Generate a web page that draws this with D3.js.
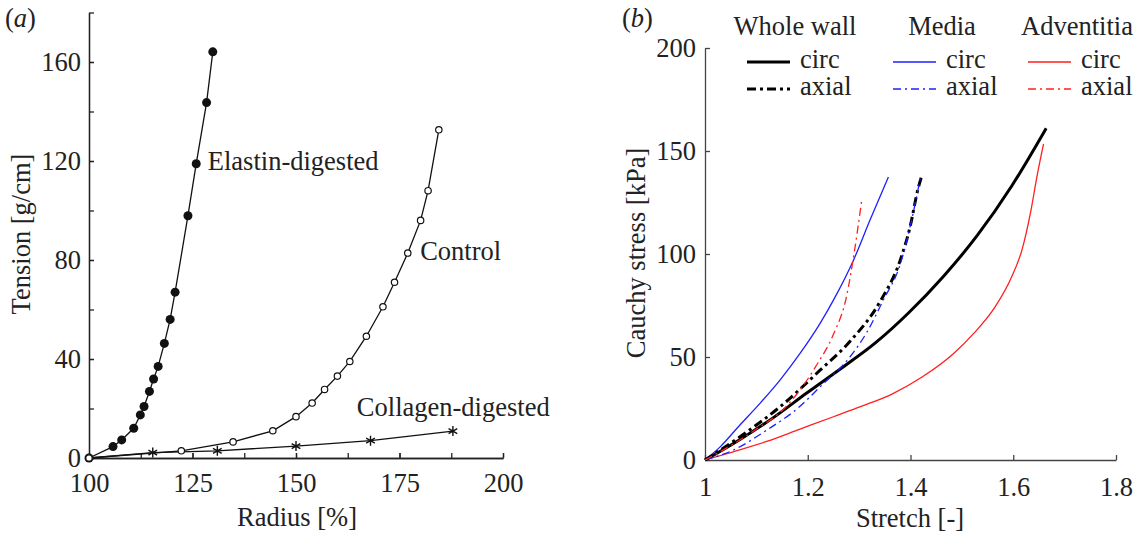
<!DOCTYPE html>
<html>
<head>
<meta charset="utf-8">
<script src="https://cdn.jsdelivr.net/npm/d3@7"></script>
<style>
  body { margin: 0; background: #fff; }
</style>
</head>
<body>
<script>
const W = 1138, H = 535;
const FONT = "'Liberation Serif', 'Times New Roman', Times, serif";
const FS = 26.5;

// ----- PANEL (a) DATA : [radius %, tension g/cm] -----
const elastin = [[100,0],[105.8,4.6],[107.9,7.3],[110.8,12],[112.4,17.4],[113.3,20.8],[114.6,26.9],
  [115.6,31.9],[116.7,37],[118.2,46.3],[119.6,56],[120.8,67],[123.9,97.9],[125.9,118.9],[128.4,143.6],[129.9,164.1]];
const control = [[100,0],[122.3,2.9],[134.8,6.5],[144.4,11],[150,16.7],[153.9,22.2],[156.9,27.7],[160,33.1],
  [163,39],[167,49.2],[171,61.1],[173.8,71],[177,82.8],[180.1,96],[181.9,108],[184.5,132.6]];
const collagen = [[100,0],[115.4,2.2],[131,2.9],[150,4.8],[168,7],[187.9,10.9]];
const xTicksA = [100, 125, 150, 175, 200];
const yTicksA = [0, 40, 80, 120, 160];

// ----- PANEL (b) DATA : [stretch, Cauchy stress kPa] -----
const wholeCirc = [[1,0],[1.065,9.5],[1.131,20.2],[1.198,32.5],[1.264,44.3],[1.331,56.7],[1.397,71.6],
  [1.464,89.1],[1.53,109],[1.597,133],[1.664,161]];
const wholeAxial = [[1,0],[1.068,11.3],[1.146,25.8],[1.224,43.6],[1.282,57.5],[1.341,77],[1.38,97],
  [1.399,113],[1.415,132],[1.422,138]];
const mediaCirc = [[1,0],[1.03,6.5],[1.068,17],[1.107,27.5],[1.146,38.8],[1.185,51.7],[1.224,66.3],
  [1.25,77.6],[1.289,97],[1.321,116.4],[1.357,137.4]];
const mediaAxial = [[1,0],[1.055,4.8],[1.12,14.5],[1.18,25],[1.224,35.5],[1.282,50],[1.315,62],
  [1.347,77.6],[1.38,95],[1.399,113],[1.42,138]];
const adventCirc = [[1,0],[1.055,4],[1.12,9],[1.185,15],[1.25,21],[1.304,26],[1.364,32],
  [1.424,40.5],[1.484,51.7],[1.524,61.7],[1.564,74.1],[1.597,89],[1.617,102],[1.634,120.6],
  [1.647,138.8],[1.659,153.5]];
const adventAxial = [[1,0],[1.05,7],[1.1,15],[1.15,24],[1.185,34],[1.217,46],[1.25,61],[1.276,80],
  [1.29,100],[1.305,126]];
const xTicksB = [1, 1.2, 1.4, 1.6, 1.8];
const yTicksB = [0, 50, 100, 150, 200];

const legendGroups = ["Whole wall", "Media", "Adventitia"];
const legendColors = ["#000", "#1f1fff", "#ff1f1f"];

const svg = d3.select("body").append("svg").attr("width", W).attr("height", H)
  .attr("font-family", FONT);

function txt(g) {
  return g.append("text").attr("font-family", FONT).attr("font-size", FS).attr("fill", "#222");
}

function styleAxis(g, col) {
  g.attr("font-family", FONT).attr("font-size", FS);
  g.select(".domain").attr("stroke", col).attr("stroke-width", 1.3);
  g.selectAll(".tick line").attr("stroke", col).attr("stroke-width", 1.3);
  g.selectAll(".tick text").attr("fill", "#222");
}

// ===== PANEL (a) =====
const xa = d3.scaleLinear().domain([100, 200]).range([89, 503]);
const ya = d3.scaleLinear().domain([0, 180]).range([458, 12.5]);
const ga = svg.append("g");

// minor ticks
ga.append("g").attr("transform", `translate(0,${ya(0)})`)
  .call(d3.axisBottom(xa).tickValues(d3.range(100, 201, 12.5)).tickSizeInner(-5).tickSizeOuter(0).tickFormat(""))
  .call(g => styleAxis(g, "#222"));
ga.append("g").attr("transform", `translate(${xa(100)},0)`)
  .call(d3.axisLeft(ya).tickValues(d3.range(0, 181, 20)).tickSizeInner(-5).tickSizeOuter(0).tickFormat(""))
  .call(g => styleAxis(g, "#222"));
// labelled ticks
ga.append("g").attr("transform", `translate(0,${ya(0)})`)
  .call(d3.axisBottom(xa).tickValues(xTicksA).tickSizeInner(-5).tickSizeOuter(0).tickPadding(15))
  .call(g => styleAxis(g, "#222"));
ga.append("g").attr("transform", `translate(${xa(100)},0)`)
  .call(d3.axisLeft(ya).tickValues(yTicksA).tickSizeInner(-5).tickSizeOuter(0).tickPadding(8))
  .call(g => styleAxis(g, "#222"));

const lineA = d3.line().x(d => xa(d[0])).y(d => ya(d[1]));
[elastin, control, collagen].forEach(s => {
  ga.append("path").datum(s).attr("d", lineA)
    .attr("fill", "none").attr("stroke", "#111").attr("stroke-width", 1.3);
});

ga.selectAll(".filled").data(elastin).join("circle")
  .attr("cx", d => xa(d[0])).attr("cy", d => ya(d[1])).attr("r", 4.5).attr("fill", "#111");
ga.selectAll(".open").data(control).join("circle")
  .attr("cx", d => xa(d[0])).attr("cy", d => ya(d[1])).attr("r", 3.2)
  .attr("fill", "#fff").attr("stroke", "#111").attr("stroke-width", 1.2);
const star = d3.symbol().type(d3.symbolAsterisk).size(70);
ga.selectAll(".star").data(collagen.slice(1)).join("path")
  .attr("d", star).attr("transform", d => `translate(${xa(d[0])},${ya(d[1])})`)
  .attr("fill", "none").attr("stroke", "#111").attr("stroke-width", 1.4);

const labelsA = [["Elastin-digested", 128.7, 116.4], ["Control", 180, 80], ["Collagen-digested", 164.7, 17]];
labelsA.forEach(d => txt(ga).attr("x", xa(d[1])).attr("y", ya(d[2])).text(d[0]));

txt(ga).attr("x", 297).attr("y", 526).attr("text-anchor", "middle").text("Radius [%]");
txt(ga).attr("transform", "translate(30,234) rotate(-90)").attr("text-anchor", "middle").text("Tension [g/cm]");
const pa = txt(ga).attr("x", 5).attr("y", 27);
pa.append("tspan").text("(");
pa.append("tspan").attr("font-style", "italic").text("a");
pa.append("tspan").text(")");

// ===== PANEL (b) =====
const xb = d3.scaleLinear().domain([1, 1.8]).range([705, 1116]);
const yb = d3.scaleLinear().domain([0, 200]).range([460, 48]);
const gb = svg.append("g");

gb.append("g").attr("transform", `translate(0,${yb(0)})`)
  .call(d3.axisBottom(xb).tickValues(xTicksB).tickSizeInner(-5).tickSizeOuter(0).tickPadding(17)
    .tickFormat(d => d === 1 ? "1" : d3.format(".1f")(d)))
  .call(g => styleAxis(g, "#444"));
gb.append("g").attr("transform", `translate(${xb(1)},0)`)
  .call(d3.axisLeft(yb).tickValues(yTicksB).tickSizeInner(-5).tickSizeOuter(0).tickPadding(9))
  .call(g => styleAxis(g, "#444"));

const lineB = d3.line().curve(d3.curveMonotoneX).x(d => xb(d[0])).y(d => yb(d[1]));
const seriesB = [
  { data: adventCirc, color: legendColors[2], w: 1.3, dash: null },
  { data: mediaCirc, color: legendColors[1], w: 1.3, dash: null },
  { data: wholeCirc, color: legendColors[0], w: 3, dash: null },
  { data: wholeAxial, color: legendColors[0], w: 3, dash: "9,4,3,4" },
  { data: mediaAxial, color: legendColors[1], w: 1.3, dash: "8,4,2,4" },
  { data: adventAxial, color: legendColors[2], w: 1.3, dash: "8,4,2,4" }
];
seriesB.forEach(s => {
  gb.append("path").datum(s.data).attr("d", lineB).attr("fill", "none")
    .attr("stroke", s.color).attr("stroke-width", s.w).attr("stroke-dasharray", s.dash);
});

// legend
const legX = [747, 893, 1028];
const headX = [795, 942, 1077];
legendGroups.forEach((name, i) => {
  txt(gb).attr("x", headX[i]).attr("y", 35).attr("text-anchor", "middle").text(name);
  const w = i === 0 ? 3 : 1.3;
  gb.append("line").attr("x1", legX[i]).attr("x2", legX[i] + 43).attr("y1", 62).attr("y2", 62)
    .attr("stroke", legendColors[i]).attr("stroke-width", w);
  gb.append("line").attr("x1", legX[i]).attr("x2", legX[i] + 43).attr("y1", 89).attr("y2", 89)
    .attr("stroke", legendColors[i]).attr("stroke-width", w)
    .attr("stroke-dasharray", i === 0 ? "9,4,3,4" : "8,4,2,4");
  txt(gb).attr("x", legX[i] + 53).attr("y", 68).text("circ");
  txt(gb).attr("x", legX[i] + 53).attr("y", 95).text("axial");
});

txt(gb).attr("x", 910).attr("y", 527).attr("text-anchor", "middle").text("Stretch [-]");
txt(gb).attr("transform", "translate(645,253) rotate(-90)").attr("text-anchor", "middle").text("Cauchy stress [kPa]");
const pb = txt(gb).attr("x", 622).attr("y", 27);
pb.append("tspan").text("(");
pb.append("tspan").attr("font-style", "italic").text("b");
pb.append("tspan").text(")");
</script>
</body>
</html>
